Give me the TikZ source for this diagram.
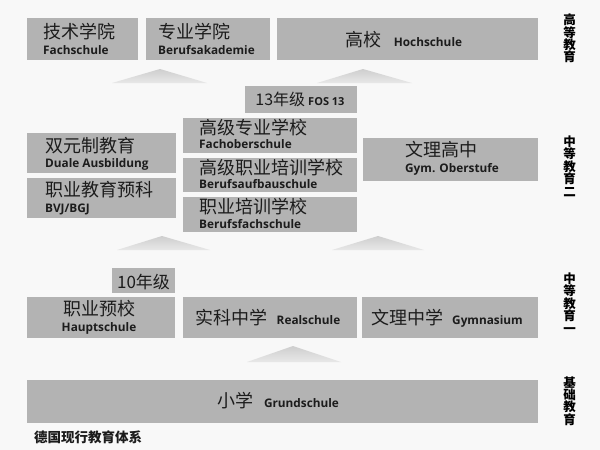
\documentclass[tikz,border=0pt]{standalone}
\usepackage{fontspec}
\setmainfont{Open Sans}
\newfontfamily\cjk{Noto Sans CJK SC}
\definecolor{bgc}{RGB}{248,248,248}
\definecolor{boxc}{RGB}{179,179,179}
\definecolor{txtc}{RGB}{28,28,28}
\definecolor{tritop}{RGB}{206,206,206}
\definecolor{tribot}{RGB}{232,232,232}
\newcommand\zhfont{\cjk\fontsize{18}{19}\selectfont}
\newcommand\defont{\fontsize{11.8}{13}\selectfont\bfseries}
\newcommand\gbox[5]{\node[gbox, minimum width={(#4-#2)*1pt}, minimum height={(#5-#3)*1pt}] (#1) at ({(#2+#4)/2},{(#3+#5)/2}) {};}
\begin{document}
\begin{tikzpicture}[x=1pt,y=-1pt,
  gbox/.style={fill=boxc, draw=none, inner sep=0pt, outer sep=0pt},
  zh/.style={font=\zhfont, text=txtc, inner sep=0pt},
  de/.style={font=\defont, text=txtc, inner sep=0pt},
  mix/.style={text=txtc, inner sep=0pt, anchor=base},
  side/.style={font=\cjk\bfseries\fontsize{12.5}{12.4}\selectfont, align=center, text=black, inner sep=0pt},
  tri/.style={top color=tritop, bottom color=tribot, draw=none}]
\fill[bgc] (0,0) rectangle (600,450);
\useasboundingbox (0,0) rectangle (600,450);

% top row
\gbox{fach}{27}{18}{138}{60}
\node[zh, anchor=base west] (fachZ) at (43,38.5) {技术学院};
\node[de, anchor=base west] (fachD) at (43,54.5) {Fachschule};
\gbox{bak}{146}{18}{270}{60}
\node[zh, anchor=base west] (bakZ) at (158,38.5) {专业学院};
\node[de, anchor=base west] (bakD) at (158,54.5) {Berufsakademie};
\gbox{hoch}{277}{18}{538}{60}
\node[mix] (hochT) at (404,46) {{\zhfont 高校}\hspace{12pt}{\defont Hochschule}};

% triangles top
\shade[tri] (112,83) -- (160,69) -- (207,83) -- cycle;
\shade[tri] (317,83) -- (363,69) -- (412,83) -- cycle;

% FOS 13
\gbox{fos}{245}{86}{357}{113}
\node[mix] (fosT) at (300,105) {{\cjk\fontsize{16}{18}\selectfont 13年级}\hspace{3pt}{\fontsize{11}{13}\selectfont\bfseries FOS 13}};

% middle left
\gbox{duale}{27}{133}{176}{173}
\node[zh, anchor=base west] (dualeZ) at (45,152.5) {双元制教育};
\node[de, anchor=base west] (dualeD) at (45,167) {Duale Ausbildung};
\gbox{bvj}{27}{178}{176}{218}
\node[zh, anchor=base west] (bvjZ) at (45,196.5) {职业教育预科};
\node[de, anchor=base west] (bvjD) at (45,212.5) {BVJ/BGJ};

% middle column
\gbox{fos2}{183}{118}{357}{153}
\node[zh, anchor=base west] (fos2Z) at (199,134.5) {高级专业学校};
\node[de, anchor=base west] (fos2D) at (199,148) {Fachoberschule};
\gbox{bas}{183}{158}{357}{192}
\node[zh, anchor=base west] (basZ) at (199,174.5) {高级职业培训学校};
\node[de, anchor=base west] (basD) at (199,188) {Berufsaufbauschule};
\gbox{bfs}{183}{197}{357}{232}
\node[zh, anchor=base west] (bfsZ) at (199,213.5) {职业培训学校};
\node[de, anchor=base west] (bfsD) at (199,228) {Berufsfachschule};

% middle right
\gbox{gymob}{363}{138}{538}{181}
\node[zh, anchor=base west] (gymobZ) at (405,156.5) {文理高中};
\node[de, anchor=base west] (gymobD) at (405,172) {Gym. Oberstufe};

% triangles middle
\shade[tri] (117,250) -- (162,236) -- (210,250) -- cycle;
\shade[tri] (332,250) -- (378,236) -- (424,250) -- cycle;

% grade 10
\gbox{g10}{112}{268}{175}{293}
\node[mix] (g10T) at (143.5,288) {\cjk\fontsize{17}{18}\selectfont 10年级};

% lower secondary
\gbox{haupt}{27}{297}{175}{338}
\node[zh, anchor=base] (hauptZ) at (99,315.5) {职业预校};
\node[de, anchor=base] (hauptD) at (99,331) {Hauptschule};
\gbox{real}{183}{297}{357}{338}
\node[mix] (realT) at (268,324) {{\zhfont 实科中学}\hspace{9pt}{\defont Realschule}};
\gbox{gymn}{362}{297}{538}{338}
\node[mix] (gymnT) at (447,324) {{\zhfont 文理中学}\hspace{9pt}{\defont Gymnasium}};

% triangle bottom
\shade[tri] (247,362) -- (293,346) -- (341,362) -- cycle;

% primary
\gbox{grund}{27}{380}{538}{423}
\node[mix] (grundT) at (278,407) {{\zhfont 小学}\hspace{11pt}{\defont Grundschule}};

% caption
\node[anchor=base west, inner sep=0pt, text=txtc, font=\cjk\bfseries\fontsize{13.5}{15}\selectfont] (cap) at (34,442) {德国现行教育体系};

% side labels
\node[side] (lab1) at (569.5,38.5) {高\\等\\教\\育};
\node[side] (lab2) at (569.5,166) {中\\等\\教\\育\\二};
\node[side] (lab3) at (569.5,303) {中\\等\\教\\育\\一};
\node[side] (lab4) at (569.5,401) {基\\础\\教\\育};
\end{tikzpicture}
\end{document}
